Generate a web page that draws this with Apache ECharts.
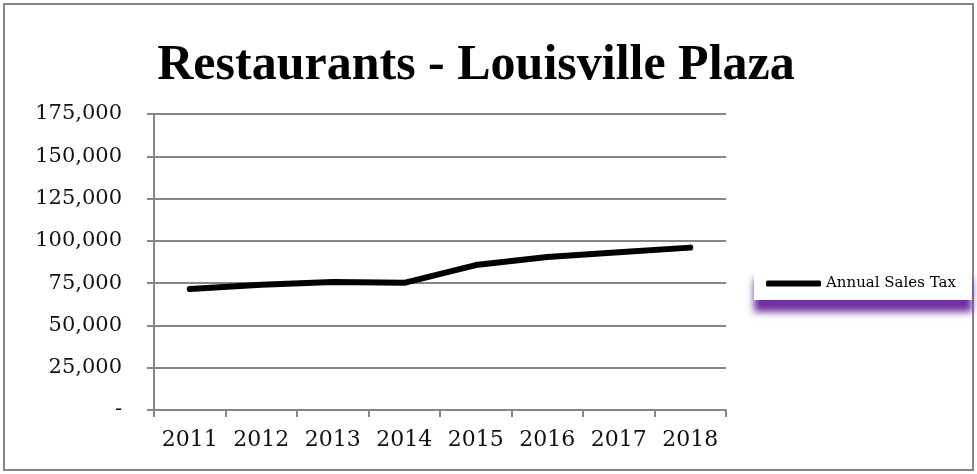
<!DOCTYPE html>
<html>
<head>
<meta charset="utf-8">
<title>Restaurants - Louisville Plaza</title>
<script src="https://cdn.jsdelivr.net/npm/echarts@6/dist/echarts.min.js"></script>
<style>
  html, body { margin: 0; padding: 0; background: #ffffff; }
  #chart { width: 977px; height: 474px; }
</style>
</head>
<body>
<div id="chart"></div>
<script>
// Annual restaurant sales tax, Louisville Plaza
const years = ['2011', '2012', '2013', '2014', '2015', '2016', '2017', '2018'];
const annualSalesTax = [71500, 74100, 75700, 75200, 85700, 90500, 93200, 96000];
const seriesName = 'Annual Sales Tax';
const chartTitle = 'Restaurants - Louisville Plaza';

const serif = '"DejaVu Serif", "Liberation Serif", serif';
const titleSerif = '"Liberation Serif", "DejaVu Serif", serif';
const axisGray = '#868686';

const chart = echarts.init(document.getElementById('chart'), null, { renderer: 'canvas' });

chart.setOption({
  backgroundColor: '#ffffff',
  animation: false,
  title: {
    text: chartTitle,
    left: 471,
    top: 36,
    textAlign: 'center',
    textStyle: { fontFamily: titleSerif, fontWeight: 'bold', fontSize: 50, color: '#000000' }
  },
  graphic: [{
    type: 'rect',
    shape: { x: 4, y: 4, width: 969, height: 466 },
    style: { fill: 'none', stroke: axisGray, lineWidth: 2 },
    silent: true
  }],
  grid: { left: 154, right: 251, top: 114, bottom: 64 },
  legend: {
    data: [{ name: seriesName, icon: 'roundRect' }],
    left: 754,
    top: 267,
    padding: [9, 16, 9, 12],
    itemWidth: 55,
    itemHeight: 6,
    itemGap: 5,
    backgroundColor: '#ffffff',
    shadowColor: 'rgba(112, 48, 160, 1)',
    shadowBlur: 7,
    shadowOffsetY: 12,
    textStyle: { fontFamily: serif, fontSize: 15, color: '#000000', padding: [0, 0, 0, 0] }
  },
  xAxis: {
    type: 'category',
    data: years,
    boundaryGap: true,
    axisLine: { lineStyle: { color: axisGray, width: 2 } },
    axisTick: { show: true, length: 7, lineStyle: { color: axisGray, width: 2 } },
    axisLabel: { fontFamily: serif, fontSize: 22, color: '#111111', margin: 19, interval: 0 },
    splitLine: { show: false }
  },
  yAxis: {
    type: 'value',
    min: 0,
    max: 175000,
    interval: 25000,
    axisLine: { show: true, lineStyle: { color: axisGray, width: 2 } },
    axisTick: { show: true, length: 7, lineStyle: { color: axisGray, width: 2 } },
    axisLabel: {
      fontFamily: serif,
      fontSize: 21,
      color: '#111111',
      margin: 32,
      formatter: v => (v === 0 ? '-' : v.toLocaleString('en-US'))
    },
    splitLine: { show: true, lineStyle: { color: axisGray, width: 2 } }
  },
  series: [{
    name: seriesName,
    type: 'line',
    data: annualSalesTax,
    symbol: 'none',
    lineStyle: { color: '#000000', width: 6, cap: 'round', join: 'round' },
    itemStyle: { color: '#000000' }
  }]
});
</script>
</body>
</html>
